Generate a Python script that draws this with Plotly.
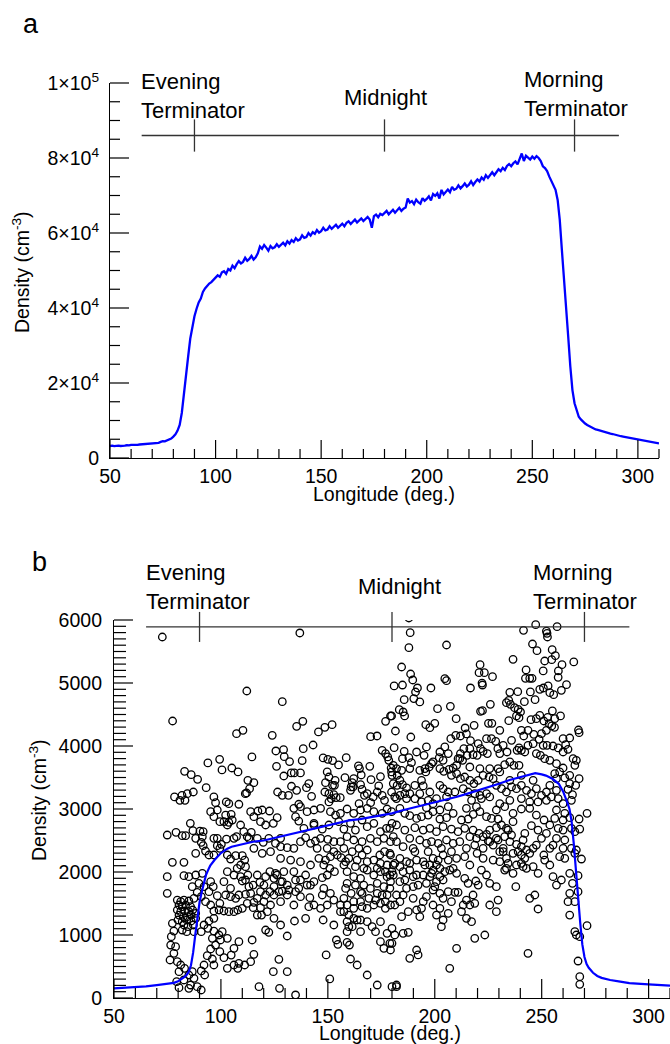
import plotly.graph_objects as go

# ---------------- Panel a: averaged density vs longitude ----------------
lon_a = list(range(50, 311))
dens_a = [
    3200, 3300, 3150, 3250, 3300, 3200, 3350, 3300, 3400, 3350,   # 50-59
    3500, 3450, 3550, 3500, 3600, 3650, 3600, 3750, 3800, 3750,   # 60-69
    3900, 4000, 4100, 4050, 4300, 4500, 4450, 4700, 5000, 5200,   # 70-79
    5700, 6300, 7300, 8800, 12000, 16500, 21500, 27000, 31800, 35200,  # 80-89
    37800, 39800, 41500, 42500, 44300, 45200, 45900, 46500, 46900, 47500,  # 90-99
    48000, 48700, 48300, 49500, 49800, 49100, 50400, 50000, 51300, 50600,  # 100-109
    51700, 52500, 51900, 52300, 53400, 52600, 53100, 53900, 52900, 53500,  # 110-119
    54600, 56400, 55800, 56800, 56100, 55300, 56500, 55900, 56200, 57000,  # 120-129
    56300, 56900, 57400, 56700, 57800, 57200, 58100, 57600, 58600, 58000,  # 130-139
    58300, 59400, 58700, 58900, 60000, 59300, 60200, 59800, 60800, 60100,  # 140-149
    60500, 61400, 60700, 60900, 61800, 61100, 61600, 62200, 61400, 62000,  # 150-159
    62500, 61800, 62700, 63100, 62400, 63000, 63600, 62800, 63300, 63900,  # 160-169
    63200, 63700, 64300, 63600, 61400, 64500, 64900, 64200, 65100, 64800,  # 170-179
    65300, 65900, 65000, 65600, 66200, 65400, 66000, 66700, 65900, 66500,  # 180-189
    66800, 69200, 68100, 68500, 67700, 68900, 68200, 67800, 69300, 68600,  # 190-199
    69100, 69800, 68700, 70400, 69900, 70600, 69200, 71500, 70300, 71000,  # 200-209
    71600, 70900, 72300, 71500, 71800, 72700, 71900, 72500, 73200, 72400,  # 210-219
    72900, 73800, 72800, 73600, 74300, 73700, 74800, 74200, 75400, 74700,  # 220-229
    75500, 76200, 75400, 76400, 77000, 76500, 77400, 76800, 77900, 78400,  # 230-239
    77800, 78600, 79100, 78300, 79800, 81200, 79200, 80600, 80100, 79600,  # 240-249
    80400, 79800, 80500, 80000, 79200, 77800, 77300, 76500, 75100, 73800,  # 250-259
    72600, 71500, 68800, 63500, 55500, 48400, 40400, 32400, 24400, 18100,  # 260-269
    14600, 12400, 11000, 10300, 9700, 9200, 8800, 8500, 8100, 7900,       # 270-279
    7600, 7500, 7300, 7100, 6900, 6800, 6700, 6500, 6400, 6200,           # 280-289
    6000, 6000, 5800, 5700, 5600, 5400, 5400, 5200, 5100, 5000,           # 290-299
    4800, 4800, 4700, 4600, 4500, 4400, 4300, 4200, 4100, 3900,           # 300-309
    3900,                                                                 # 310
]

# ---------------- Panel b: single-orbit samples + average ----------------
lon_b = [50, 55, 60, 65, 70, 75, 78, 80, 82, 83, 84, 85, 86, 87, 88, 89, 90, 91, 92, 93,
         94, 95, 97, 100, 103, 105, 110, 115, 120, 125, 130, 135, 140, 145, 150, 155,
         160, 165, 170, 175, 180, 185, 190, 195, 200, 205, 210, 215, 220, 225, 230, 235,
         240, 245, 247, 250, 252, 255, 257, 258, 260, 261, 262, 263, 264, 265, 266, 267,
         268, 269, 270, 271, 272, 274, 276, 278, 282, 286, 291, 300, 310]
dens_b = [152, 160, 168, 185, 204, 225, 240, 267, 310, 335, 370, 420, 520, 720, 1000, 1300,
          1520, 1680, 1830, 1950, 2030, 2100, 2190, 2300, 2370, 2400, 2440, 2480, 2500,
          2540, 2570, 2620, 2650, 2700, 2730, 2780, 2820, 2840, 2870, 2900, 2930, 2980,
          3020, 3060, 3110, 3150, 3190, 3240, 3290, 3340, 3400, 3460, 3510, 3550, 3570,
          3550, 3530, 3480, 3430, 3400, 3280, 3200, 3100, 3000, 2800, 2450, 2000, 1600,
          1200, 850, 650, 540, 480, 400, 350, 320, 285, 265, 235, 215, 195]

scatter_points = [
    (72.6, 5730), (136.9, 5794), (77.4, 4397), (112.1, 4873), (128.7, 4704), (107.3, 4196),
    (110.3, 4249), (124, 4170), (135.4, 4313), (138.3, 4392), (145.6, 4223), (148.6, 4297),
    (152, 4339), (170, 4148), (173, 4159), (177, 4392), (179.3, 4476), (143.1, 4016),
    (125.7, 3921), (129.3, 3942), (138.5, 3958), (99.4, 3789), (93.9, 3731), (114.5, 3826),
    (129.6, 3831), (132.1, 3752), (138, 3767), (147.8, 3810), (150, 3789), (152.2, 3767),
    (155, 3699), (158.6, 3815), (83, 3598), (86.1, 3545), (89.1, 3471), (100.5, 3620),
    (105.1, 3651), (108, 3588), (126, 3678), (129.4, 3524), (132.9, 3572), (134.3, 3572),
    (137.2, 3572), (149.7, 3588), (150.5, 3508), (148.9, 3418), (153.4, 3455), (152.2, 3376),
    (153.1, 3376), (158, 3498), (164.3, 3683), (164.8, 3641), (165.6, 3540), (162.1, 3482),
    (161.4, 3418), (160.9, 3350), (169.6, 3678), (174.6, 3514), (178.5, 3773), (179.6, 3651),
    (180, 3535), (175.4, 3932), (177, 3879), (178, 3826), (112.6, 3455), (115.4, 3418),
    (112, 3254), (113.4, 3323), (111.4, 3244), (93.1, 3339), (87.1, 3270), (84.3, 3244),
    (81.8, 3217), (78.3, 3191), (80.8, 3138), (83.2, 3138), (96.7, 3191), (97.5, 3101),
    (102.5, 3112), (103.7, 3085), (108.4, 3075), (126.5, 3270), (128.7, 3217), (131.6, 3217),
    (133, 3361), (135.4, 3297), (140, 3339), (141.1, 3403), (142.4, 3201), (136.4, 3075),
    (148.6, 3270), (150.5, 3244), (152.8, 3228), (151.6, 3164), (153.9, 3180), (155.8, 3180),
    (160.6, 3297), (161.8, 3350), (165.3, 3387), (166, 3313), (167.1, 3217), (168.4, 3244),
    (170.2, 3466), (171.2, 3191), (173.1, 3270), (173.8, 3366), (175.4, 3217), (176.5, 3138),
    (170, 3101), (164.6, 3085), (150.5, 3112),
    # upper right
    (187.9, 6032), (188.5, 5799), (187.9, 5561), (205.5, 5603), (184.5, 5254), (188.7, 5143),
    (189.7, 5048), (181, 4953), (184.9, 4968), (191, 4857), (191.9, 4921), (190.2, 4752),
    (193, 4699), (185.7, 4736), (198.2, 4921), (204.7, 5069), (205.5, 5037), (221.2, 5291),
    (220.7, 5164), (223.2, 5164), (222.1, 4999), (222.3, 4968), (227, 5101), (216.7, 4921),
    (236.6, 5376), (242.7, 5207), (242.4, 5074), (244.4, 5074), (245.5, 5074), (241.5, 5836),
    (247.2, 5926), (252.2, 5825), (252.5, 5788), (252.7, 5730), (257.2, 5894), (245.7, 5619),
    (247.8, 5513), (254.9, 5529), (256.4, 5434), (254.7, 5371), (251.4, 5349), (259.5, 5291),
    (265, 5334), (250.7, 5191), (257.8, 5191), (257.7, 5090), (261.6, 4974), (259.2, 4884),
    (249.1, 4900), (250.8, 4921), (253, 4953), (253.8, 4847), (255.6, 4815), (235.1, 4852),
    (238.8, 4863), (244.7, 4858), (246.9, 4736), (241.9, 4704), (233.5, 4688), (234.6, 4725),
    (235.4, 4662), (237.3, 4609), (239, 4582), (240.1, 4540), (238.2, 4477), (239.4, 4450),
    (226, 4662), (221.4, 4551), (222.3, 4561), (201.3, 4593), (207.3, 4630), (210, 4434),
    (179.8, 4477), (183.4, 4577), (185.2, 4540), (185.9, 4477), (225.1, 4360), (226.7, 4360),
    (234.6, 4402), (230.4, 4249), (195.8, 4339), (197.7, 4291), (200, 4360), (181.6, 4238),
    (188.8, 4143), (181, 3974), (185.7, 3916), (184.9, 3799), (187.9, 3815), (189.1, 3736),
    (195, 3852), (204.7, 3985), (206.3, 3879), (202.1, 3815), (203.9, 3773), (207.5, 4117),
    (209.8, 4170), (212, 4159), (214.2, 4286), (214.8, 4191), (216.7, 4085), (218.4, 4328),
    (213.6, 3958), (216.4, 3958), (217.9, 3863), (212, 3879), (210.9, 3799), (213, 3773),
    (215.1, 3852), (220.3, 4037), (221.4, 3958), (219.8, 3852), (222.6, 3916), (224.6, 3879),
    (224.2, 4117), (226.5, 4117), (228.5, 4074), (229.5, 3958), (232, 4011), (230.4, 3879),
    (233.8, 3905), (235.9, 4090), (238.5, 3932), (239.4, 3969), (240.5, 3932), (242.1, 3905),
    (240.5, 4249), (241.6, 4159), (243.6, 4249), (246.3, 4185), (245, 4418), (247.5, 4434),
    (249.1, 4487), (251, 4397), (252.8, 4455), (255, 4556), (256.1, 4434), (258.8, 4477),
    (253.5, 4355), (254.7, 4318), (256, 4297), (252.2, 4249), (249.9, 4196), (248.8, 4106),
    (246, 4037), (243.6, 4011), (250.7, 4011), (252.5, 4011), (255.3, 4000), (257.7, 3969),
    (260, 4117), (263.1, 4127), (261.2, 4021), (262.3, 3948), (260, 3905), (267.2, 4254),
    (267.5, 4212), (264.7, 3799), (266.2, 3773), (265.5, 3693), (247.5, 3879), (249.4, 3852),
    (251.4, 3799), (253.8, 3773), (256.9, 3720), (260, 3651), (258.4, 3588), (256.1, 3561),
    (263.1, 3535), (260.8, 3493), (256.9, 3482), (267.5, 3482), (265.9, 3376), (264.4, 3228),
    (263.1, 3403), (262.3, 3313), (180.6, 3693), (182.1, 3641), (184.5, 3614), (179.8, 3588),
    (182.4, 3535), (183.7, 3456), (180.6, 3403), (182.4, 3376), (184.9, 3387), (186.8, 3334),
    (188.3, 3244), (186, 3244), (183.7, 3217), (181.3, 3191), (179.8, 3270), (190.7, 3376),
    (193.8, 3455), (194.6, 3366), (195.8, 3588), (198.5, 3720), (199.2, 3747), (197.4, 3667),
    (195.4, 3641), (202.4, 3641), (204.2, 3598), (206.7, 3630), (208.6, 3651), (210.2, 3693),
    (207.8, 3535), (210.2, 3561), (212, 3482), (214, 3508), (216.4, 3455), (218.3, 3403),
    (220.3, 3455), (222.6, 3535), (225.4, 3508), (227.3, 3482), (229.6, 3641), (232.7, 3704),
    (235.1, 3747), (237, 3693), (239.4, 3693), (202.4, 3376), (203.9, 3323), (206.3, 3270),
    (209.4, 3270), (213.3, 3323), (215.6, 3270), (218.7, 3244), (221.1, 3217), (224.2, 3244),
    (228.8, 3376), (231.2, 3323), (233.5, 3270), (235.9, 3350), (238.2, 3323), (240.5, 3376),
    (242.9, 3297), (245.2, 3244), (247.5, 3323), (249.9, 3217), (252.2, 3270), (254.5, 3191),
    (190.7, 3164), (193.8, 3112), (196.9, 3138), (199.2, 3085), (193, 3244), (197.7, 3270),
    (182.1, 3165), (186.8, 3165), (200.8, 3165), (205.5, 3191), (217.2, 3138), (221.8, 3165),
    (225.7, 3191), (230.4, 3085), (235.1, 3138), (240.5, 3165), (244.4, 3112), (248.3, 3112),
    (252.2, 3138), (257.7, 3165), (260, 3085), (263.9, 3138), (253.8, 3376), (256.9, 3297),
    (246, 3455), (240.5, 3535), (235.1, 3455), (230.4, 3588), (225.7, 3641), (221.1, 3641),
    (216.4, 3667), (211.7, 3799), (202.4, 3905), (196.1, 3985), (191.5, 3905), (188.3, 3641),
    (193, 3614),
    # lower left
    (85.7, 2772), (74.9, 2587), (79, 2629), (81.9, 2576), (83.5, 2576), (86.9, 2656),
    (90.2, 2650), (91.7, 2640), (88.2, 2534), (91.3, 2560), (90.8, 2471), (91.7, 2418),
    (92.8, 2333), (94.4, 2270), (96.7, 2270), (88.2, 2296), (95.2, 2957), (96.7, 2878),
    (99.5, 2799), (101.4, 2799), (103.7, 2788), (105.3, 2825), (102.2, 2904), (98.3, 2984),
    (104.8, 2915), (98.3, 2418), (99.5, 2375), (100.2, 2439), (96.7, 2534), (98.3, 2534),
    (102.6, 2523), (106.1, 2534), (107.3, 2560), (110.7, 2640), (112.3, 2560), (114.2, 2629),
    (103, 2270), (104.5, 2206), (106.9, 2259), (110, 2259), (111.1, 2190), (109.2, 2111),
    (111.5, 2084), (112.6, 1952), (110, 1857), (107.6, 2058), (106.1, 1952), (113.9, 2957),
    (115.4, 2878), (117.3, 2968), (119.3, 2984), (122.7, 2968), (126.3, 2862), (124.5, 2772),
    (120.9, 2746), (118.5, 2799), (117, 2534), (119.8, 2471), (122.4, 2534), (125.5, 2455),
    (127.9, 2534), (127.9, 2402), (131, 2386), (134.1, 2375), (137.2, 2481), (139.6, 2545),
    (141.9, 2455), (144.2, 2492), (146.6, 2534), (150, 2518), (152.8, 2481), (134.1, 3010),
    (137.2, 3037), (140.3, 2957), (143.5, 2984), (146.6, 3010), (151.2, 2957), (153.6, 2904),
    (155.9, 2931), (159, 3000), (162.1, 2931), (165.3, 2984), (168.4, 3010), (171.5, 2957),
    (175.4, 2931), (177.7, 3000), (134.9, 2878), (136.4, 2809), (138.8, 2693), (143.5, 2772),
    (147.4, 2682), (150.5, 2746), (155.1, 2799), (157.5, 2682), (160.6, 2772), (162.9, 2666),
    (166, 2825), (168.4, 2719), (171.5, 2772), (174.6, 2640), (177.4, 2693), (180, 2772),
    (149.7, 2375), (152.8, 2322), (151.2, 2243), (154.4, 2270), (156.2, 2227), (158.3, 2164),
    (161.4, 2322), (164.5, 2375), (166, 2270), (168.4, 2349), (171.5, 2190), (174.3, 2270),
    (176.5, 2322), (179.3, 2270), (145.8, 2217), (148.1, 2111), (150.9, 2058), (153.1, 2005),
    (149.7, 1952), (147.4, 1910), (143.5, 1846), (140.3, 1793), (137.2, 1873), (134.9, 1873),
    (131, 1793), (128.7, 1846), (126.3, 1952), (124.8, 1899), (122.9, 2005), (159, 2005),
    (162.1, 1926), (165.3, 1899), (168.4, 2031), (171.5, 1952), (174.6, 2005), (177.7, 1926),
    (180, 2005), (166.8, 1793), (169.9, 1740), (173.1, 1820), (176.2, 1767), (179.3, 1846),
    (158.3, 1740), (160.9, 1661), (157.5, 1582), (155.9, 1476), (159, 1476), (162.1, 1529),
    (165.3, 1529), (166, 1450), (169.2, 1582), (171.5, 1476), (174.6, 1503), (176.9, 1423),
    (179.3, 1476), (148.1, 1740), (151.2, 1661), (147.4, 1635), (152.8, 1555), (149.7, 1476),
    (146.6, 1423), (143.5, 1476), (141.6, 1592), (137.2, 1608), (134.9, 1688), (157.5, 1370),
    (159.8, 1317), (162.1, 1264), (165.3, 1238), (168.4, 1212), (174.6, 1212), (172.3, 1053),
    (170.7, 1132), (177.7, 1026), (180, 1106), (176.2, 788), (179.3, 762), (180, 868),
    (159.8, 1132), (161.4, 1132), (163.7, 1238), (154, 921), (154.7, 852), (159, 884),
    (160.1, 841), (149.2, 683), (160.6, 619), (163.7, 524), (168.4, 365), (173.1, 206),
    (180, 180), (150.9, 302), (134.4, 1222), (131, 984), (127.1, 614), (124.5, 418),
    (131, 418), (134.9, 48), (127.4, 153), (117.8, 180), (122.4, 1042), (120.9, 1079),
    (119, 1317), (117, 1317), (115.1, 1434), (118.5, 1434), (115.4, 1518), (112.3, 1503),
    (110, 1423), (107.9, 1397), (106.1, 1370), (103.7, 1370), (101.4, 1381), (99.1, 1397),
    (96.7, 1381), (99.5, 1503), (98.3, 1624), (102.2, 1635), (104.5, 1608), (106.9, 1582),
    (108.4, 1635), (111.5, 1645), (113.9, 1661), (118.5, 1688), (120.9, 1635), (122.9, 1688),
    (124.8, 1635), (127.1, 1688), (128.7, 1698), (131.8, 1714), (120.9, 1926), (125.5, 1979),
    (124.8, 1767), (127.9, 1846), (118.2, 1836), (115.1, 1793), (113.1, 1767), (111.5, 1873),
    (141.1, 1450), (139.6, 1264), (147.8, 1238), (152.8, 1159), (95.2, 1846), (96.4, 1767),
    (94.4, 1688), (92.1, 1767), (90.8, 1608), (92.8, 1529), (95.2, 1476), (96.7, 1264),
    (94.4, 1222), (92.1, 1159), (93.9, 1106), (90.8, 1053), (96.7, 1063), (99.1, 1000),
    (96, 947), (100.6, 1053), (103, 947), (99.8, 921), (97.5, 841), (99.5, 735), (95.2, 778),
    (93.6, 672), (96, 619), (96.7, 524), (101.4, 640), (106.1, 524), (103, 471), (107.9, 471),
    (111.1, 524), (113.9, 577), (108.4, 550), (115.4, 693), (114.6, 921), (108.4, 894),
    (106.1, 788), (104.8, 682), (79.6, 1555), (81.2, 1529), (82.7, 1555), (85, 1540),
    (80.4, 1476), (81.9, 1450), (83.5, 1476), (85.8, 1450), (79.6, 1397), (81.2, 1370),
    (83, 1381), (85, 1370), (86.8, 1397), (80.4, 1317), (82.4, 1291), (84.3, 1291),
    (86.1, 1317), (88.2, 1344), (79.9, 1238), (81.9, 1212), (84, 1238), (86.1, 1222),
    (88.2, 1264), (82.7, 1159), (84.6, 1132), (87.1, 1159), (81.9, 1079), (84, 1053),
    (87.4, 1053), (77.3, 1185), (78, 1063), (76.8, 974), (76.5, 841), (78.8, 815), (78, 709),
    (76.2, 603), (79.6, 577), (81.2, 524), (83, 471), (80.4, 418), (79.3, 259), (82.7, 286),
    (85, 365), (86.6, 418), (85.8, 206), (87.4, 312), (90.8, 429), (92.1, 524), (92.4, 365),
    (88.9, 180), (90.8, 127), (85, 153), (80.4, 164), (74.9, 1926), (74.9, 1661),
    (77.3, 2153), (82.7, 2153), (82.7, 1941), (85, 1926), (88.2, 1952), (91.3, 1979),
    (89.7, 1820), (86.6, 1767), (88.9, 1677), (87.4, 1582), (155.9, 2481), (159, 2560),
    (162.1, 2508), (166, 2481), (169.9, 2534), (173.1, 2481), (176.2, 2534), (179.3, 2481),
    (157.5, 2111), (162.9, 2084), (168.4, 2164), (174.6, 2137), (177.7, 2111), (166, 1661),
    (173.1, 1661), (177.7, 1635), (143.5, 2746), (145, 2375), (148.9, 2190), (157.5, 2375),
    (159.8, 2217), (163.7, 2190), (166.8, 2058), (173.1, 2058), (176.9, 2005), (159, 1820),
    (162.9, 1793), (165.3, 1688), (172.3, 1555), (175.4, 1635), (176.9, 1529), (168.4, 1423),
    (162.1, 1423), (155.9, 1370), (159, 1212), (165.3, 1053), (174.6, 894), (159, 1053),
    (103, 2746), (109.2, 2746), (113.1, 2534), (115.4, 2375), (119.3, 2296), (123.2, 2322),
    (127.9, 2217), (132.6, 2190), (137.2, 2164), (141.9, 2111), (134.1, 2005), (129.4, 2005),
    (139.6, 1952), (141.9, 1793), (136.4, 1741), (131, 1635), (127.9, 1529), (123.2, 1476),
    (120.1, 1529), (117, 1582), (104.5, 1741), (101.4, 1846), (103, 2005), (109.2, 1926),
    (117, 1952), (120.1, 1793), (121.7, 1370), (124.8, 1264), (127.9, 1159), (134.1, 1476),
    # lower right
    (188.3, 2894), (191.5, 2851), (193.8, 2878), (196.9, 2904), (199.2, 2957), (202.4, 2841),
    (205.5, 2862), (208.6, 2931), (212.5, 2825), (215.6, 2841), (218, 2915), (221.1, 2957),
    (224.2, 2878), (226.5, 2851), (229.6, 2841), (233.5, 2693), (236.6, 2799), (240.5, 3000),
    (245.2, 2735), (251.1, 2825), (256.1, 2851), (260, 2825), (263.1, 2862), (267.5, 2841),
    (271.2, 2931), (179, 2693), (182.1, 2746), (186, 2666), (190.7, 2703), (194.6, 2666),
    (197.7, 2693), (200.8, 2640), (203.9, 2719), (207.8, 2682), (210.9, 2640), (214, 2693),
    (217.9, 2666), (220.7, 2613), (224.2, 2598), (225.7, 2666), (228.8, 2703), (231.2, 2746),
    (234.3, 2666), (242.1, 2613), (257.7, 2693), (260, 2666), (263.9, 2693), (265.5, 2640),
    (267.8, 2682), (180.6, 2560), (185.2, 2402), (189.9, 2375), (193, 2508), (196.1, 2455),
    (198.5, 2481), (201.6, 2455), (205.5, 2508), (208.6, 2455), (211.7, 2481), (216.4, 2560),
    (219.5, 2534), (222.6, 2560), (225, 2492), (227.3, 2428), (232, 2375), (235.1, 2481),
    (238.2, 2439), (241.3, 2508), (246, 2375), (247.5, 2428), (256.9, 2534), (260.8, 2508),
    (260, 2375), (263.9, 2375), (266.2, 2349), (179, 2296), (183.7, 2217), (186.8, 2164),
    (191.5, 2190), (194.6, 2164), (199.2, 2217), (200.8, 2111), (203.9, 2270), (206.3, 2190),
    (210.2, 2217), (214, 2243), (216.4, 2111), (219.8, 2296), (222.6, 2217), (227.3, 2190),
    (232, 2322), (234.3, 2137), (238.2, 2111), (240.5, 2137), (242.1, 2217), (244.4, 2296),
    (251, 2270), (258.4, 2243), (260.8, 2217), (265.5, 2296), (268.6, 2206), (180.6, 1952),
    (183.7, 1846), (186, 1873), (189.9, 1926), (192.2, 1793), (194.6, 1952), (197.7, 1926),
    (200, 1767), (202.4, 1926), (204.7, 2005), (207, 2031), (210.2, 1979), (214, 1899),
    (215.6, 1820), (219.2, 1857), (221.8, 2031), (225.7, 1820), (228.8, 1767), (232.7, 2031),
    (237.9, 1767), (241.3, 2084), (248.3, 1979), (255.3, 1926), (256.9, 1793), (259.2, 1873),
    (263.1, 1979), (267, 1941), (264.4, 1820), (179, 1741), (182.1, 1635), (185.2, 1635),
    (183.7, 1529), (181.3, 1476), (187.6, 1370), (191.5, 1397), (193, 1291), (196.1, 1608),
    (199.2, 1714), (202.4, 1661), (203.9, 1582), (206.3, 1688), (209.4, 1677), (210.9, 1677),
    (213.3, 1476), (217.9, 1635), (218.7, 1503), (216.4, 1476), (212.5, 1370), (206.3, 1344),
    (203.9, 1238), (203.1, 1132), (217.2, 1212), (223.4, 1000), (218.7, 947), (210.2, 788),
    (207, 471), (229.6, 1555), (244.4, 1582), (246.8, 1635), (248.3, 1413), (263.1, 1661),
    (262.3, 1529), (265.5, 1529), (267, 1688), (263.1, 1317), (265.5, 1053), (266.2, 1000),
    (267.8, 974), (271.2, 1148), (267, 587), (267.8, 339), (267.8, 217), (243.6, 709),
    (192.2, 683), (188.3, 630), (191.5, 762), (182.1, 206), (182.1, 180), (179, 868),
    (181.3, 1000), (185.2, 1026), (187.6, 1042), (184.5, 1291), (196.1, 1820), (193.8, 1423),
    (208.6, 2058), (202.4, 2058), (199.2, 2031), (197.7, 2111), (195.4, 2111), (200.8, 1846),
    (203.9, 1873), (186.8, 1741), (189.9, 1767), (191.5, 1952), (188.3, 2031), (183.7, 2084),
    (181.3, 2137), (225.7, 2481), (228.8, 2534), (232.7, 2560), (235.9, 2587), (230.4, 2164),
    (233.5, 2217), (236.6, 2296), (239, 2322), (240.5, 2270), (242.9, 2058), (246, 2084),
    (251.4, 2190), (253.8, 2111), (253.8, 2375), (255.3, 2428), (249.9, 2534), (252.2, 2613),
    (248.3, 2666), (253.8, 2746), (179.8, 2957), (183.7, 3010), (186, 2931), (196.1, 3021),
    (202.4, 2984), (206.3, 3037), (214.8, 3010), (219.5, 3037), (228.8, 2984), (232.7, 3037),
    (236.6, 2931), (244.4, 3010), (247.5, 2904), (256.9, 2984), (260.8, 2931), (182.1, 2481),
    (188.3, 2534), (190.7, 2322), (196.9, 2322), (203.1, 2375), (207.8, 2322), (214.8, 2375),
    (218.7, 2428), (222.6, 2375), (229.6, 2508), (230.4, 2322), (240.5, 2402), (242.9, 2349),
    (233.5, 2058), (236.6, 1979), (224.2, 1952), (220.3, 1793), (198.5, 1979), (201.6, 2190),
    (188.3, 2137), (185.2, 2005), (180.6, 2111), (179, 1952), (189.9, 1582), (194.6, 1529),
    (199.2, 1476), (202.4, 1423), (207.8, 1529), (214.8, 1555), (225.7, 1476), (228.8, 1370),
    (214.8, 1264), (200.8, 1317),
]
scatter_lon = [p[0] for p in scatter_points]
scatter_density = [p[1] for p in scatter_points]

# Reference markers (longitude of terminators / midnight)
marker_lons = [90, 180, 270]
bar_span = [65, 291]

# tick labels
yticks_a = [0, 20000, 40000, 60000, 80000, 100000]
yticktext_a = ["0", "2×10<sup>4</sup>", "4×10<sup>4</sup>", "6×10<sup>4</sup>",
               "8×10<sup>4</sup>", "1×10<sup>5</sup>"]
xticks = [50, 100, 150, 200, 250, 300]
xminor = list(range(50, 311, 10))
yminor_a = list(range(0, 100001, 5000))
yticks_b = [0, 1000, 2000, 3000, 4000, 5000, 6000]
yminor_b = list(range(0, 6001, 100))

# ---------------- Layout geometry ----------------
W, H = 670, 1044
FONT = "Liberation Sans, Arial, Helvetica, sans-serif"


def fx(x):
    return x / W


def fy(y):
    return 1 - y / H


dom_a_x = [fx(110), fx(659)]
dom_a_y = [fy(458), fy(83)]
dom_b_x = [fx(114), 1.0]
dom_b_y = [fy(998), fy(620)]
range_x = [50, 310]
range_a = [0, 100000]
range_b = [0, 6000]


def to_paper(v, dom, rng):
    return dom[0] + (v - rng[0]) / (rng[1] - rng[0]) * (dom[1] - dom[0])


fig = go.Figure()
fig.add_trace(go.Scatter(x=lon_a, y=dens_a, mode="lines",
                         line=dict(color="#0000ff", width=2.3),
                         xaxis="x", yaxis="y", showlegend=False, hoverinfo="skip"))
fig.add_trace(go.Scatter(x=scatter_lon, y=scatter_density, mode="markers",
                         marker=dict(symbol="circle-open", size=7.5, color="black",
                                     line=dict(width=1.3, color="black")),
                         xaxis="x2", yaxis="y2", showlegend=False, hoverinfo="skip"))
fig.add_trace(go.Scatter(x=lon_b, y=dens_b, mode="lines",
                         line=dict(color="#0000ff", width=2.2),
                         xaxis="x2", yaxis="y2", showlegend=False, hoverinfo="skip"))

tickfont = dict(family=FONT, size=19.5, color="black")


def axis(**kw):
    base = dict(showline=True, linecolor="black", linewidth=1.2, ticks="",
                showgrid=False, zeroline=False, tickfont=tickfont, automargin=False,
                layer="above traces")
    base.update(kw)
    return base


fig.update_layout(
    width=W, height=H, margin=dict(l=0, r=0, t=0, b=0, pad=0, autoexpand=False),
    paper_bgcolor="white", plot_bgcolor="white", showlegend=False,
    xaxis=axis(domain=dom_a_x, range=range_x, anchor="y", tickvals=xticks),
    yaxis=axis(domain=dom_a_y, range=range_a, anchor="x", tickvals=yticks_a,
               ticktext=yticktext_a, ticklabelstandoff=6),
    xaxis2=axis(domain=dom_b_x, range=range_x, anchor="y2", tickvals=xticks),
    yaxis2=axis(domain=dom_b_y, range=range_b, anchor="x2", tickvals=yticks_b,
                ticklabelstandoff=7),
)

# ---------------- Tick marks (drawn inward along the axes) ----------------
tick_line = dict(color="black", width=1.2)
shapes = []


def x_ticks(dom_x, dom_y, values, length_px):
    for v in values:
        xp = to_paper(v, dom_x, range_x)
        shapes.append(dict(type="line", xref="paper", yref="paper", x0=xp, x1=xp,
                           y0=dom_y[0], y1=dom_y[0] + length_px / H, line=tick_line))


def y_ticks(dom_x, dom_y, rng, values, length_px):
    for v in values:
        yp = to_paper(v, dom_y, rng)
        shapes.append(dict(type="line", xref="paper", yref="paper", x0=dom_x[0],
                           x1=dom_x[0] + length_px / W, y0=yp, y1=yp, line=tick_line))


x_ticks(dom_a_x, dom_a_y, [v for v in xminor if v not in xticks], 9)
x_ticks(dom_a_x, dom_a_y, xticks, 18)
y_ticks(dom_a_x, dom_a_y, range_a, [v for v in yminor_a if v not in yticks_a], 10)
y_ticks(dom_a_x, dom_a_y, range_a, yticks_a, 19)
x_ticks(dom_b_x, dom_b_y, [v for v in xminor if v not in xticks], 10)
x_ticks(dom_b_x, dom_b_y, xticks, 19)
y_ticks(dom_b_x, dom_b_y, range_b, [v for v in yminor_b if v not in yticks_b], 12)
y_ticks(dom_b_x, dom_b_y, range_b, yticks_b, 19)

# ---------------- Terminator / midnight bars ----------------
bars = [
    (dom_a_x, dom_a_y, range_a, 86000, 4300),
    (dom_b_x, dom_b_y, range_b, 5890, 238),
]
bar_line = dict(color="#333333", width=1.3)
for dom_x, dom_y, rng, level, half in bars:
    yl = to_paper(level, dom_y, rng)
    shapes.append(dict(type="line", xref="paper", yref="paper",
                       x0=to_paper(bar_span[0], dom_x, range_x),
                       x1=to_paper(bar_span[1], dom_x, range_x),
                       y0=yl, y1=yl, line=bar_line))
    for lon in marker_lons:
        xp = to_paper(lon, dom_x, range_x)
        shapes.append(dict(type="line", xref="paper", yref="paper", x0=xp, x1=xp,
                           y0=to_paper(level - half, dom_y, rng),
                           y1=to_paper(level + half, dom_y, rng), line=bar_line))
fig.update_layout(shapes=shapes)

# ---------------- Text annotations ----------------
ann_font = dict(family=FONT, size=22, color="black")
title_font = dict(family=FONT, size=19.5, color="black")
annotations = [
    dict(text="a", x=fx(31), y=fy(24), font=dict(family=FONT, size=27, color="black")),
    dict(text="b", x=fx(39), y=fy(562), font=dict(family=FONT, size=27, color="black")),
    # panel a labels
    dict(text="Evening<br>Terminator", x=fx(139), y=fy(96), xanchor="left", align="left",
         font=ann_font),
    dict(text="Midnight", x=fx(386), y=fy(97), font=ann_font),
    dict(text="Morning<br>Terminator", x=fx(522), y=fy(94), xanchor="left", align="left",
         font=ann_font),
    # panel b labels
    dict(text="Evening<br>Terminator", x=fx(144), y=fy(587), xanchor="left", align="left",
         font=ann_font),
    dict(text="Midnight", x=fx(399), y=fy(586), font=ann_font),
    dict(text="Morning<br>Terminator", x=fx(531), y=fy(587), xanchor="left", align="left",
         font=ann_font),
    # axis titles
    dict(text="Density (cm<sup>-3</sup>)", x=fx(21), y=fy(272), textangle=-90, font=title_font),
    dict(text="Longitude (deg.)", x=fx(384), y=fy(494), font=title_font),
    dict(text="Density (cm<sup>-3</sup>)", x=fx(38), y=fy(800), textangle=-90, font=title_font),
    dict(text="Longitude (deg.)", x=fx(390), y=fy(1033), font=title_font),
]
for a in annotations:
    a.setdefault("xanchor", "center")
    a.setdefault("yanchor", "middle")
    a.update(xref="paper", yref="paper", showarrow=False)
fig.update_layout(annotations=annotations)

fig.write_html("out.html", config={"displayModeBar": False},
               post_script="document.body.style.margin='0px';"
                           "document.body.style.padding='0px';"
                           "document.documentElement.style.overflow='hidden';")
